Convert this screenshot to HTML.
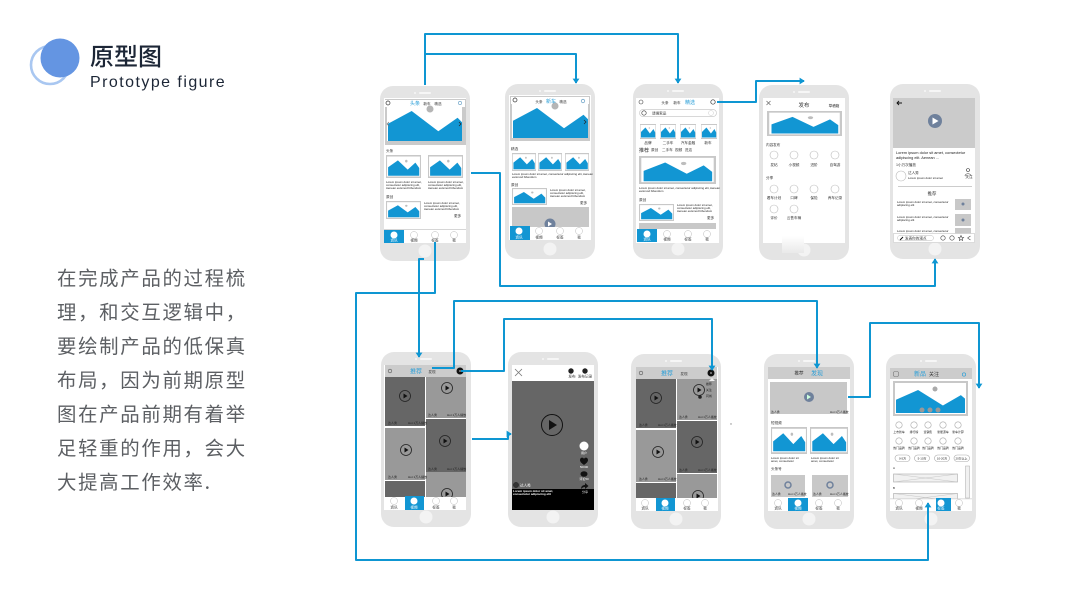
<!DOCTYPE html>
<html><head><meta charset="utf-8"><style>
html,body{margin:0;padding:0;background:#fff;width:1067px;height:600px;overflow:hidden}
svg{display:block}
text{font-family:"Liberation Sans","Noto Sans CJK SC",sans-serif;fill:#333;font-size:3.6px}
.c{text-anchor:middle}
.z{font-size:4px;fill:#444}
.w{fill:#fff}
.b{fill:#2a9fd8}
.l{font-size:2.9px;fill:#222}
.body{font-size:19.4px;fill:#5c5f63;letter-spacing:1.7px;font-family:"Noto Sans CJK SC",sans-serif}
</style></head><body>
<svg width="1067" height="600" viewBox="0 0 1067 600" xmlns="http://www.w3.org/2000/svg">
<defs>
<symbol id="phone" viewBox="0 0 90 175" width="90" height="175"><rect width="90" height="175" rx="13" fill="#e4e4e4"/><rect x="39" y="6" width="12" height="2" rx="1" fill="#f6f6f6"/><circle cx="35" cy="7" r="1" fill="#f6f6f6"/><circle cx="45" cy="165" r="6.5" fill="#f3f3f3"/></symbol>
<symbol id="img" viewBox="0 0 100 60" preserveAspectRatio="none"><rect width="100" height="60" fill="#c8c8c8"/><rect x="3" y="4" width="94" height="52" fill="#fff"/><path d="M6 54V32L34 14 62 38 84 20 95 34V54Z" fill="#1296d3"/><circle cx="58" cy="16" r="3.5" fill="#bdbdbd"/></symbol>
<symbol id="hero" viewBox="0 0 100 40" preserveAspectRatio="none"><path d="M0 40V17L32 0 68 27 94 9 100 15V40Z" fill="#1296d3"/></symbol>
<marker id="a" markerWidth="3.4" markerHeight="3.4" refX="2.2" refY="1.7" orient="auto" markerUnits="strokeWidth"><path d="M0 0L2.6 1.7 0 3.4Z" fill="#0e96d2"/></marker>
</defs>

<!-- header -->
<circle cx="50" cy="65" r="19" fill="none" stroke="#a9c7f1" stroke-width="2.6"/>
<circle cx="60" cy="58" r="19.5" fill="#6495e2"/>
<text x="90" y="65" style="font-size:24px;fill:#1c2636;font-weight:500;font-family:'Noto Sans CJK SC',sans-serif">原型图</text>
<text x="90" y="87" style="font-size:16px;fill:#1c2636;letter-spacing:1.45px">Prototype figure</text>

<!-- body text -->
<text class="body" x="57" y="285">在完成产品的过程梳</text>
<text class="body" x="57" y="319">理，和交互逻辑中，</text>
<text class="body" x="57" y="353">要绘制产品的低保真</text>
<text class="body" x="57" y="387">布局，因为前期原型</text>
<text class="body" x="57" y="421">图在产品前期有着举</text>
<text class="body" x="57" y="455">足轻重的作用，会大</text>
<text class="body" x="57" y="489">大提高工作效率.</text>

<use href="#phone" x="380" y="86"/><use href="#phone" x="505" y="84"/><use href="#phone" x="633" y="84"/><use href="#phone" x="759" y="85"/><use href="#phone" x="890" y="84"/>
<use href="#phone" x="381" y="352"/><use href="#phone" x="508" y="352"/><use href="#phone" x="631" y="354"/><use href="#phone" x="764" y="354"/><use href="#phone" x="886" y="354"/>

<!-- P1 -->
<rect x="384" y="98" width="82" height="145" fill="#fff"/>
<rect x="385" y="99" width="81" height="46" fill="#cacaca"/>
<rect x="385" y="100" width="80" height="7" fill="#fff"/>
<rect x="387" y="107" width="75" height="34" fill="#fff"/>
<use href="#hero" x="388" y="111" width="74" height="30"/>
<circle cx="430" cy="109" r="3.5" fill="#b5b5b5"/>
<path d="M459 122l2 2-2 2" fill="none" stroke="#222" stroke-width=".7"/><path d="M389 122l-2 2 2 2" fill="none" stroke="#777" stroke-width=".7"/>
<text class="b c" x="415" y="105" style="font-size:5px">头条</text><text class="c" x="427" y="105">新车</text><text class="c" x="438" y="105">精选</text>
<circle cx="388" cy="103" r="2" fill="none" stroke="#333" stroke-width=".7"/><circle cx="460" cy="103" r="1.6" fill="none" stroke="#7ac" stroke-width=".7"/>
<text x="386" y="152">头条</text>
<use href="#img" x="386" y="155" width="35" height="23"/><use href="#img" x="428" y="155" width="35" height="23"/>
<text class="l" x="386" y="183">Lorem ipsum dolor sit amet,</text><text class="l" x="386" y="186">consectetur adipiscing elit,</text><text class="l" x="386" y="189">Aenean euismod bibendum</text>
<text class="l" x="428" y="183">Lorem ipsum dolor sit amet,</text><text class="l" x="428" y="186">consectetur adipiscing elit,</text><text class="l" x="428" y="189">Aenean euismod bibendum</text>
<text x="386" y="198">原创</text>
<use href="#img" x="386" y="201" width="35" height="18"/>
<text class="l" x="424" y="204">Lorem ipsum dolor sit amet,</text><text class="l" x="424" y="207">consectetur adipiscing elit,</text><text class="l" x="424" y="210">Aenean euismod bibendum</text>
<text x="454" y="217">更多</text>
<g id="t1"><rect x="384" y="229" width="82" height="14" fill="#fff"/><rect x="384" y="229" width="82" height=".8" fill="#ccc"/><rect x="384" y="230" width="20" height="13" fill="#1296d3"/>
<circle cx="394" cy="235" r="3.5" fill="#fff"/><circle cx="414" cy="235" r="3.5" fill="#fff" stroke="#bbb" stroke-width=".5"/><circle cx="435" cy="235" r="3.5" fill="#fff" stroke="#bbb" stroke-width=".5"/><circle cx="454" cy="235" r="3.5" fill="#fff" stroke="#bbb" stroke-width=".5"/>
<text class="c w" x="394" y="241.500">资讯</text><text class="c" x="414" y="241.500">视频</text><text class="c" x="435" y="241.500">标签</text><text class="c" x="454" y="241.500">我</text></g>

<!-- P2 -->
<rect x="509" y="95" width="82" height="145" fill="#fff"/>
<rect x="510" y="96" width="80" height="45" fill="#cacaca"/>
<rect x="511" y="97" width="78" height="7" fill="#fff"/>
<rect x="512" y="104" width="76" height="34" fill="#fff"/>
<use href="#hero" x="513" y="108" width="75" height="30"/>
<circle cx="555" cy="106" r="3.500" fill="#b5b5b5"/>
<path d="M584 120l2 2-2 2" fill="none" stroke="#222" stroke-width=".7"/>
<circle cx="515" cy="100" r="2" fill="none" stroke="#333" stroke-width=".7"/><circle cx="583" cy="101" r="1.700" fill="none" stroke="#7ac" stroke-width=".8"/>
<text class="c" x="539" y="103">头条</text><text class="b c" x="551" y="103" style="font-size:5px">新车</text><text class="c" x="563" y="103">精选</text>
<text x="511" y="150">精选</text>
<use href="#img" x="512" y="153" width="24" height="18"/><use href="#img" x="538" y="153" width="24" height="18"/><use href="#img" x="565" y="153" width="24" height="18"/>
<text class="l" x="512" y="175">Lorem ipsum dolor sit amet, consectetur adipiscing elit, Aenean</text><text class="l" x="512" y="178">euismod bibendum</text>
<text x="511" y="186">原创</text>
<use href="#img" x="512" y="188" width="35" height="17"/>
<text class="l" x="550" y="191">Lorem ipsum dolor sit amet,</text><text class="l" x="550" y="194">consectetur adipiscing elit,</text><text class="l" x="550" y="197">Aenean euismod bibendum</text>
<text x="580" y="204">更多</text>
<rect x="512" y="207" width="77" height="21" fill="#c8c8c8"/><circle cx="550" cy="224" r="5.500" fill="#6f819c"/><path d="M548 221.500l4 2.500-4 2.500z" fill="#fff"/>
<rect x="510" y="227" width="81" height="13" fill="#fff"/><rect x="510" y="226" width="20" height="14" fill="#1296d3"/>
<circle cx="519" cy="231" r="3.500" fill="#fff"/><circle cx="539" cy="231" r="3.500" fill="#fff" stroke="#bbb" stroke-width=".5"/><circle cx="560" cy="231" r="3.500" fill="#fff" stroke="#bbb" stroke-width=".5"/><circle cx="579" cy="231" r="3.500" fill="#fff" stroke="#bbb" stroke-width=".5"/>
<text class="c w" x="519" y="238.500">资讯</text><text class="c" x="539" y="238.500">视频</text><text class="c" x="560" y="238.500">标签</text><text class="c" x="579" y="238.500">我</text>

<!-- P3 -->
<rect x="636" y="98" width="83" height="145" fill="#fff"/>
<circle cx="641" cy="102" r="2" fill="none" stroke="#444" stroke-width=".6"/><circle cx="713" cy="102" r="2.200" fill="none" stroke="#333" stroke-width=".7"/>
<text class="c" x="665" y="104">头条</text><text class="c" x="677" y="104">新车</text><text class="b c" x="690" y="104" style="font-size:5px">精选</text>
<rect x="639.500" y="109.500" width="77" height="7" rx="3.500" fill="#fff" stroke="#ccc" stroke-width=".7"/><circle cx="644" cy="113" r="2.200" fill="none" stroke="#333" stroke-width=".6"/>
<text x="652" y="114.500">请搜索品</text><circle cx="711" cy="113" r="2.500" fill="none" stroke="#ccc" stroke-width=".5"/>
<use href="#img" x="640" y="124" width="16" height="15"/><use href="#img" x="660" y="124" width="16" height="15"/><use href="#img" x="680" y="124" width="16" height="15"/><use href="#img" x="701" y="124" width="16" height="15"/>
<text class="c" x="648" y="144">品牌</text><text class="c" x="668" y="144">二手车</text><text class="c" x="688" y="144">汽车金融</text><text class="c" x="708" y="144">新车</text>
<text x="639" y="152" style="font-size:5px">推荐</text><text x="651" y="151">原创</text><text x="662" y="151">二手车</text><text x="675" y="151">视频</text><text x="685" y="151">进店</text>
<use href="#img" x="639" y="156" width="77" height="28"/>
<text class="l" x="639" y="189">Lorem ipsum dolor sit amet, consectetur adipiscing elit, Aenean</text><text class="l" x="639" y="192">euismod bibendum</text>
<text x="639" y="201">原创</text>
<use href="#img" x="639" y="204" width="35" height="17"/>
<text class="l" x="677" y="206">Lorem ipsum dolor sit amet,</text><text class="l" x="677" y="209">consectetur adipiscing elit,</text><text class="l" x="677" y="212">Aenean euismod bibendum</text>
<text x="707" y="219">更多</text>
<rect x="639" y="223" width="77" height="6" fill="#c8c8c8"/>
<rect x="636" y="229" width="83" height="13" fill="#fff"/><rect x="637" y="229" width="20" height="13" fill="#1296d3"/>
<circle cx="647" cy="234" r="3.500" fill="#fff"/><circle cx="667" cy="234" r="3.500" fill="#fff" stroke="#bbb" stroke-width=".5"/><circle cx="688" cy="234" r="3.500" fill="#fff" stroke="#bbb" stroke-width=".5"/><circle cx="707" cy="234" r="3.500" fill="#fff" stroke="#bbb" stroke-width=".5"/>
<text class="c w" x="647" y="240.500">资讯</text><text class="c" x="667" y="240.500">视频</text><text class="c" x="688" y="240.500">标签</text><text class="c" x="707" y="240.500">我</text>

<!-- P4 -->
<rect x="763" y="98" width="82" height="145" fill="#fff"/>
<path d="M766.500 101l4 4m0-4l-4 4" stroke="#666" stroke-width=".7" fill="none"/>
<text class="c" x="804" y="107" style="font-size:5.500px">发布</text><text class="c" x="834" y="107">草稿箱</text>
<use href="#img" x="767" y="111" width="75" height="25"/>
<text x="766" y="146">内容发布</text>
<g fill="#fff" stroke="#bbb" stroke-width=".6"><circle cx="774" cy="155" r="4"/><circle cx="794" cy="155" r="4"/><circle cx="814" cy="155" r="4"/><circle cx="835" cy="155" r="4"/><circle cx="774" cy="189" r="4"/><circle cx="794" cy="189" r="4"/><circle cx="814" cy="189" r="4"/><circle cx="835" cy="189" r="4"/><circle cx="774" cy="209" r="4"/><circle cx="794" cy="209" r="4"/></g>
<text class="c" x="774" y="166">发帖</text><text class="c" x="794" y="166">小视频</text><text class="c" x="814" y="166">进阶</text><text class="c" x="835" y="166">自驾游</text>
<text x="766" y="179">分享</text>
<text class="c" x="774" y="199">看车计划</text><text class="c" x="794" y="199">口碑</text><text class="c" x="814" y="199">保险</text><text class="c" x="835" y="199">养车记录</text>
<text class="c" x="774" y="219">评价</text><text class="c" x="794" y="219">云售车辆</text>
<defs><linearGradient id="g" x1="0" y1="0" x2="0" y2="1"><stop offset="0" stop-color="#fff"/><stop offset="1" stop-color="#e9e9e9"/></linearGradient></defs>
<rect x="782" y="236" width="22" height="17" fill="url(#g)"/>

<!-- P5 -->
<rect x="893" y="98" width="82" height="145" fill="#fff"/>
<rect x="893" y="98" width="82" height="50" fill="#cbcbcb"/>
<path d="M902 103h-5m2-2l-2 2 2 2" stroke="#111" stroke-width=".9" fill="none"/>
<circle cx="935" cy="121" r="7" fill="#6f819c"/><path d="M932.500 117.500l6 3.500-6 3.500z" fill="#fff"/>
<text x="896" y="154" style="font-size:3.900px;fill:#222">Lorem ipsum dolor sit amet, consectetur</text><text x="896" y="159" style="font-size:3.900px;fill:#222">adipiscing elit. Aenean ...</text>
<text x="896" y="166">1小万次播放</text>
<circle cx="901" cy="176" r="5" fill="#fff" stroke="#bbb" stroke-width=".6"/>
<text x="908" y="174">达人秀</text><text class="l" x="908" y="179">Lorem ipsum dolor sit amet</text>
<circle cx="968" cy="170" r="1.500" fill="none" stroke="#333" stroke-width=".6"/><path d="M965 176c0-3 6-3 6 0" fill="none" stroke="#333" stroke-width=".6"/><text class="c" x="969" y="178">关注</text>
<rect x="898" y="186" width="74" height="1" fill="#ccc"/>
<text class="c" x="932" y="195" style="font-size:4.400px">推荐</text>
<rect x="955" y="199" width="16" height="11" fill="#c8c8c8"/><circle cx="963" cy="204" r="1.500" fill="#6f819c"/>
<rect x="955" y="214" width="16" height="12" fill="#c8c8c8"/><circle cx="963" cy="220" r="1.500" fill="#6f819c"/>
<rect x="955" y="228" width="16" height="6" fill="#c8c8c8"/>
<text class="l" x="897" y="203">Lorem ipsum dolor sit amet, consectetur</text><text class="l" x="897" y="206">adipiscing elit</text>
<text class="l" x="897" y="218">Lorem ipsum dolor sit amet, consectetur</text><text class="l" x="897" y="221">adipiscing elit</text>
<text class="l" x="897" y="232">Lorem ipsum dolor sit amet, consectetur</text>
<rect x="893.500" y="233.500" width="81" height="9" fill="#fff" stroke="#ccc" stroke-width=".7"/>
<rect x="897.500" y="235.500" width="36" height="5" rx="2.500" fill="#fff" stroke="#bbb" stroke-width=".5"/><text x="905" y="239.500">发表你的观点</text>
<path d="M900 240l3-3" stroke="#111" stroke-width="1"/>
<g fill="none" stroke="#444" stroke-width=".6"><circle cx="943" cy="238" r="2.200"/><circle cx="952" cy="238" r="2.200"/><path d="M961 235.500l.8 1.800 1.800.2-1.400 1.200.4 1.800-1.600-1-1.600 1 .4-1.800-1.400-1.200 1.800-.2z"/><path d="M967.500 238l3-2m-3 2l3 2"/></g>

<!-- P6 -->
<rect x="384" y="365" width="82" height="145" fill="#fff"/>
<rect x="385" y="365" width="81" height="12" fill="#cccccc"/>
<rect x="385" y="377" width="40" height="49" fill="#666"/><rect x="385" y="428" width="40" height="52" fill="#999"/><rect x="385" y="481" width="40" height="17" fill="#666"/>
<rect x="426" y="377" width="40" height="41" fill="#999"/><rect x="426" y="419" width="40" height="53" fill="#666"/><rect x="426" y="472" width="40" height="26" fill="#999"/>
<circle cx="390" cy="371" r="1.800" fill="none" stroke="#555" stroke-width=".6"/>
<text class="b c" x="416" y="373.500" style="font-size:6px">推荐</text><text class="c" x="432" y="373">发现</text>
<circle cx="460" cy="371" r="3.500" fill="#111"/><circle cx="460" cy="371" r="1" fill="#888"/>
<g fill="none" stroke="#222" stroke-width=".8"><circle cx="405" cy="396" r="5.500"/><circle cx="447" cy="388" r="5.500"/><circle cx="406" cy="450" r="5.500"/><circle cx="445" cy="441" r="5.500"/></g>
<g fill="#111"><path d="M403.500 393.500l4 2.500-4 2.500z"/><path d="M445.500 385.500l4 2.500-4 2.500z"/><path d="M404.500 447.500l4 2.500-4 2.500z"/><path d="M443.500 438.500l4 2.500-4 2.500z"/></g>
<circle cx="447" cy="494" r="5.500" fill="none" stroke="#222" stroke-width=".8"/><path d="M445.500 491.500l4 2.500-4 2.500z" fill="#111"/>
<rect x="384" y="497" width="82" height="13" fill="#fff"/><rect x="405" y="496" width="19" height="14" fill="#1296d3"/>
<circle cx="394" cy="501" r="3.500" fill="#fff" stroke="#bbb" stroke-width=".5"/><circle cx="414" cy="501" r="3.500" fill="#fff"/><circle cx="436" cy="501" r="3.500" fill="#fff" stroke="#bbb" stroke-width=".5"/><circle cx="454" cy="501" r="3.500" fill="#fff" stroke="#bbb" stroke-width=".5"/>
<text class="c" x="394" y="508.500">资讯</text><text class="c w" x="414" y="508.500">视频</text><text class="c" x="436" y="508.500">标签</text><text class="c" x="454" y="508.500">我</text>
<g fill="#ddd" style="font-size:3px"><text x="388" y="424" style="fill:#222;font-size:3px">达人秀</text><text x="408" y="424" style="fill:#222;font-size:3px">Hot 1万人播放</text><text x="388" y="478" style="fill:#222;font-size:3px">达人秀</text><text x="408" y="478" style="fill:#222;font-size:3px">Hot 1万人播放</text><text x="428" y="416" style="fill:#222;font-size:3px">达人秀</text><text x="447" y="416" style="fill:#222;font-size:3px">Hot 1万人播放</text><text x="428" y="470" style="fill:#222;font-size:3px">达人秀</text><text x="447" y="470" style="fill:#222;font-size:3px">Hot 1万人播放</text></g>

<!-- P7 -->
<rect x="512" y="365" width="82" height="145" fill="#fff"/>
<rect x="512" y="381" width="82" height="108" fill="#666"/><rect x="512" y="489" width="82" height="21" fill="#000"/>
<path d="M515 369l7 7m0-7l-7 7" stroke="#777" stroke-width=".8"/>
<circle cx="571" cy="371" r="2.700" fill="#222"/><circle cx="585" cy="371" r="2.700" fill="#222"/>
<text class="c" x="572" y="377.500">发布</text><text class="c" x="585" y="377.500">发布记录</text>
<circle cx="552" cy="425" r="10.500" fill="none" stroke="#111" stroke-width="1"/><path d="M549 420l8 5-8 5z" fill="#111"/>
<circle cx="584" cy="446" r="4.500" fill="#fff"/><text class="c w" x="584" y="454" style="font-size:3px">用户</text>
<path d="M580 460c0-3 3.500-3 4-1 .5-2 4-2 4 1 0 2-2 3.500-4 5-2-1.500-4-3-4-5z" fill="#111"/><text class="c w" x="584" y="468" style="font-size:3px">50000</text>
<ellipse cx="584" cy="474" rx="3.500" ry="2.800" fill="#111"/><text class="c w" x="584" y="480" style="font-size:3px">评论50</text>
<path d="M581 489c0-3 2-4 4-4v-2l3.500 3-3.500 3v-2c-2 0-3 1-4 2z" fill="#111"/><text class="c w" x="585" y="493" style="font-size:3px">分享</text>
<circle cx="516" cy="485" r="2.700" fill="#333" stroke="#222" stroke-width=".4"/><text class="w" x="520" y="486.500">达人秀</text>
<text class="w" x="513" y="492" style="font-size:3px;font-weight:bold">Lorem ipsum dolor sit amet,</text><text class="w" x="513" y="495" style="font-size:3px;font-weight:bold">consectetur adipiscing elit</text>

<!-- P8 -->
<rect x="636" y="367" width="82" height="144" fill="#fff"/>
<rect x="636" y="367" width="81" height="12" fill="#cccccc"/>
<rect x="636" y="379" width="40" height="49" fill="#666"/><rect x="636" y="430" width="40" height="52" fill="#999"/><rect x="636" y="483" width="40" height="16" fill="#666"/>
<rect x="677" y="379" width="40" height="41" fill="#999"/><rect x="677" y="421" width="40" height="52" fill="#666"/><rect x="677" y="474" width="40" height="25" fill="#999"/>
<circle cx="641" cy="373" r="1.800" fill="none" stroke="#555" stroke-width=".6"/>
<text class="b c" x="667" y="375.500" style="font-size:6px">推荐</text><text class="c" x="684" y="375">发现</text>
<circle cx="711" cy="373" r="3.500" fill="#111"/><circle cx="711" cy="373" r="1" fill="#888"/>
<path d="M712 378l3 3h-6z" fill="#eee"/>
<g fill="none" stroke="#222" stroke-width=".8"><circle cx="656" cy="398" r="5.500"/><circle cx="699" cy="390" r="5.500"/><circle cx="658" cy="452" r="5.500"/><circle cx="697" cy="442" r="5.500"/><circle cx="698" cy="496" r="5.500"/></g>
<g fill="#111"><path d="M654.500 395.500l4 2.500-4 2.500z"/><path d="M697.500 387.500l4 2.500-4 2.500z"/><path d="M656.500 449.500l4 2.500-4 2.500z"/><path d="M695.500 439.500l4 2.500-4 2.500z"/><path d="M696.500 493.500l4 2.500-4 2.500z"/></g>
<text class="l" x="706" y="385">推荐</text><text class="l" x="706" y="391">关注</text><text class="l" x="706" y="397">同城</text>
<circle cx="700" cy="397" r="1.800" fill="#222"/>
<text class="l" x="639" y="426">达人秀</text><text class="l" x="658" y="426">Hot 1万人播放</text><text class="l" x="639" y="480">达人秀</text><text class="l" x="658" y="480">Hot 1万人播放</text><text class="l" x="679" y="418">达人秀</text><text class="l" x="698" y="418">Hot 1万人播放</text><text class="l" x="679" y="471">达人秀</text><text class="l" x="698" y="471">Hot 1万人播放</text>
<rect x="636" y="498" width="82" height="13" fill="#fff"/><rect x="656" y="498" width="19" height="13" fill="#1296d3"/>
<circle cx="645" cy="503" r="3.500" fill="#fff" stroke="#bbb" stroke-width=".5"/><circle cx="665" cy="503" r="3.500" fill="#fff"/><circle cx="687" cy="503" r="3.500" fill="#fff" stroke="#bbb" stroke-width=".5"/><circle cx="705" cy="503" r="3.500" fill="#fff" stroke="#bbb" stroke-width=".5"/>
<text class="c" x="645" y="509.500">资讯</text><text class="c w" x="665" y="509.500">视频</text><text class="c" x="687" y="509.500">标签</text><text class="c" x="705" y="509.500">我</text>
<circle cx="731" cy="424" r=".7" fill="#888"/>

<!-- P9 -->
<rect x="768" y="367" width="82" height="144" fill="#fff"/>
<rect x="768" y="367" width="82" height="12" fill="#cccccc"/>
<text class="c" x="799" y="374.500" style="font-size:4.500px">推荐</text><text class="b c" x="817" y="375.500" style="font-size:6px">发现</text>
<rect x="770" y="382" width="77" height="32" fill="#c8c8c8"/><circle cx="809" cy="397" r="5" fill="#6f819c"/><path d="M807 394.500l4 2.500-4 2.500z" fill="#cfd"/>
<text class="l" x="771" y="413">达人秀</text><text class="l" x="830" y="413">Hot 1万人播放</text>
<text x="771" y="424">短视频</text>
<use href="#img" x="771" y="427" width="36" height="27"/><use href="#img" x="810" y="427" width="38" height="27"/>
<text class="l" x="771" y="459">Lorem ipsum dolor sit</text><text class="l" x="771" y="462">amet, consectetur</text><text class="l" x="811" y="459">Lorem ipsum dolor sit</text><text class="l" x="811" y="462">amet, consectetur</text>
<text x="771" y="470">头条号</text>
<rect x="771" y="475" width="34" height="22" fill="#c8c8c8"/><rect x="812" y="475" width="36" height="22" fill="#c8c8c8"/>
<circle cx="788" cy="485" r="3" fill="none" stroke="#6f819c" stroke-width="1.500"/><circle cx="830" cy="485" r="3" fill="none" stroke="#6f819c" stroke-width="1.500"/>
<text class="l" x="772" y="495">达人秀</text><text class="l" x="788" y="495">Hot 1万人播放</text><text class="l" x="813" y="495">达人秀</text><text class="l" x="830" y="495">Hot 1万人播放</text>
<rect x="768" y="498" width="82" height="13" fill="#fff"/><rect x="788" y="498" width="20" height="13" fill="#1296d3"/>
<circle cx="778" cy="503" r="3.500" fill="#fff" stroke="#bbb" stroke-width=".5"/><circle cx="798" cy="503" r="3.500" fill="#fff"/><circle cx="819" cy="503" r="3.500" fill="#fff" stroke="#bbb" stroke-width=".5"/><circle cx="838" cy="503" r="3.500" fill="#fff" stroke="#bbb" stroke-width=".5"/>
<text class="c" x="778" y="509.500">资讯</text><text class="c w" x="798" y="509.500">视频</text><text class="c" x="819" y="509.500">标签</text><text class="c" x="838" y="509.500">我</text>

<!-- P10 -->
<rect x="890" y="368" width="82" height="143" fill="#fff"/>
<rect x="890" y="368" width="82" height="11" fill="#cccccc"/>
<text class="b c" x="920" y="376" style="font-size:6px">新品</text><text class="c" x="934" y="376" style="font-size:5px">关注</text>
<circle cx="964" cy="374.500" r="1.700" fill="none" stroke="#2a9fd8" stroke-width=".7"/>
<rect x="893.500" y="371.500" width="5" height="5" rx="1.500" fill="none" stroke="#777" stroke-width=".6"/>
<rect x="893" y="381" width="75" height="35" fill="#c8c8c8"/><rect x="895" y="383" width="71" height="31" fill="#fff"/>
<use href="#hero" x="896" y="390" width="69" height="23"/>
<circle cx="935" cy="389" r="2.500" fill="#aaa"/><circle cx="922" cy="410" r="2.500" fill="#999"/><circle cx="930" cy="410" r="2.500" fill="#999"/><circle cx="938" cy="410" r="2.500" fill="#999"/>
<g fill="#fff" stroke="#aaa" stroke-width=".6"><circle cx="899" cy="425" r="3.200"/><circle cx="914" cy="425" r="3.200"/><circle cx="928" cy="425" r="3.200"/><circle cx="943" cy="425" r="3.200"/><circle cx="958" cy="425" r="3.200"/><circle cx="899" cy="441" r="3.200"/><circle cx="914" cy="441" r="3.200"/><circle cx="928" cy="441" r="3.200"/><circle cx="943" cy="441" r="3.200"/><circle cx="958" cy="441" r="3.200"/></g>
<g style="font-size:3px"><text class="c l" x="899" y="433">上市新车</text><text class="c l" x="914" y="433">排行榜</text><text class="c l" x="928" y="433">查销售</text><text class="c l" x="943" y="433">新能源车</text><text class="c l" x="958" y="433">新车计算</text><text class="c l" x="899" y="449">热门品牌</text><text class="c l" x="914" y="449">热门品牌</text><text class="c l" x="928" y="449">热门品牌</text><text class="c l" x="943" y="449">热门品牌</text><text class="c l" x="958" y="449">热门品牌</text></g>
<g fill="#fff" stroke="#aaa" stroke-width=".6"><rect x="895" y="455" width="15" height="6.500" rx="3.200"/><rect x="914.500" y="455" width="15" height="6.500" rx="3.200"/><rect x="934.500" y="455" width="15" height="6.500" rx="3.200"/><rect x="954" y="455" width="15.500" height="6.500" rx="3.200"/></g>
<text class="c l" x="902.500" y="459.500">0-5万</text><text class="c l" x="922" y="459.500">5-10万</text><text class="c l" x="942" y="459.500">10-20万</text><text class="c l" x="961.500" y="459.500">20万以上</text>
<text class="l" x="893" y="469">A</text><text class="l" x="893" y="489">B</text>
<rect x="893.500" y="474" width="64" height="8" fill="#f1f1f1" stroke="#aaa" stroke-width=".6"/><path d="M893.500 474l64 8m0-8l-64 8" stroke="#bbb" stroke-width=".4"/>
<rect x="893.500" y="493.500" width="64" height="8" fill="#f1f1f1" stroke="#aaa" stroke-width=".6"/><path d="M893.500 493.500l64 8m0-8l-64 8" stroke="#bbb" stroke-width=".4"/>
<rect x="965.500" y="466" width="4" height="32" fill="#f1f1f1" stroke="#aaa" stroke-width=".5"/>
<rect x="890" y="499" width="82" height="12" fill="#fff"/><rect x="890" y="498.500" width="82" height=".7" fill="#ccc"/><rect x="936" y="498" width="15" height="13" fill="#1296d3"/>
<circle cx="899" cy="503" r="3.500" fill="#fff" stroke="#bbb" stroke-width=".5"/><circle cx="919" cy="503" r="3.500" fill="#fff" stroke="#bbb" stroke-width=".5"/><circle cx="941" cy="503" r="3.500" fill="#fff"/><circle cx="959" cy="503" r="3.500" fill="#fff" stroke="#bbb" stroke-width=".5"/>
<text class="c" x="899" y="509.500">资讯</text><text class="c" x="919" y="509.500">视频</text><text class="c w" x="941" y="509.500">标签</text><text class="c" x="959" y="509.500">我</text>

<!-- connectors -->
<g fill="none" stroke="#0e96d2" stroke-width="2" stroke-linejoin="round">
<path d="M425 85V34H678V83" marker-end="url(#a)"/>
<path d="M425 54H576V83" marker-end="url(#a)"/>
<path d="M717 102H756V81H804" marker-end="url(#a)"/>
<path d="M471 173H500V286H935V259" marker-end="url(#a)"/>
<path d="M435 242V293H356V560H928V503" marker-end="url(#a)"/>
<path d="M424 259H419V357" marker-end="url(#a)"/>
<path d="M432 368H454V301H817V368" marker-end="url(#a)"/>
<path d="M461 371H504V319H712V370" marker-end="url(#a)"/>
<path d="M472 439H508V434H511" marker-end="url(#a)"/>
<path d="M848 397H870V323H979V388" marker-end="url(#a)"/>
</g>
</svg>
</body></html>
